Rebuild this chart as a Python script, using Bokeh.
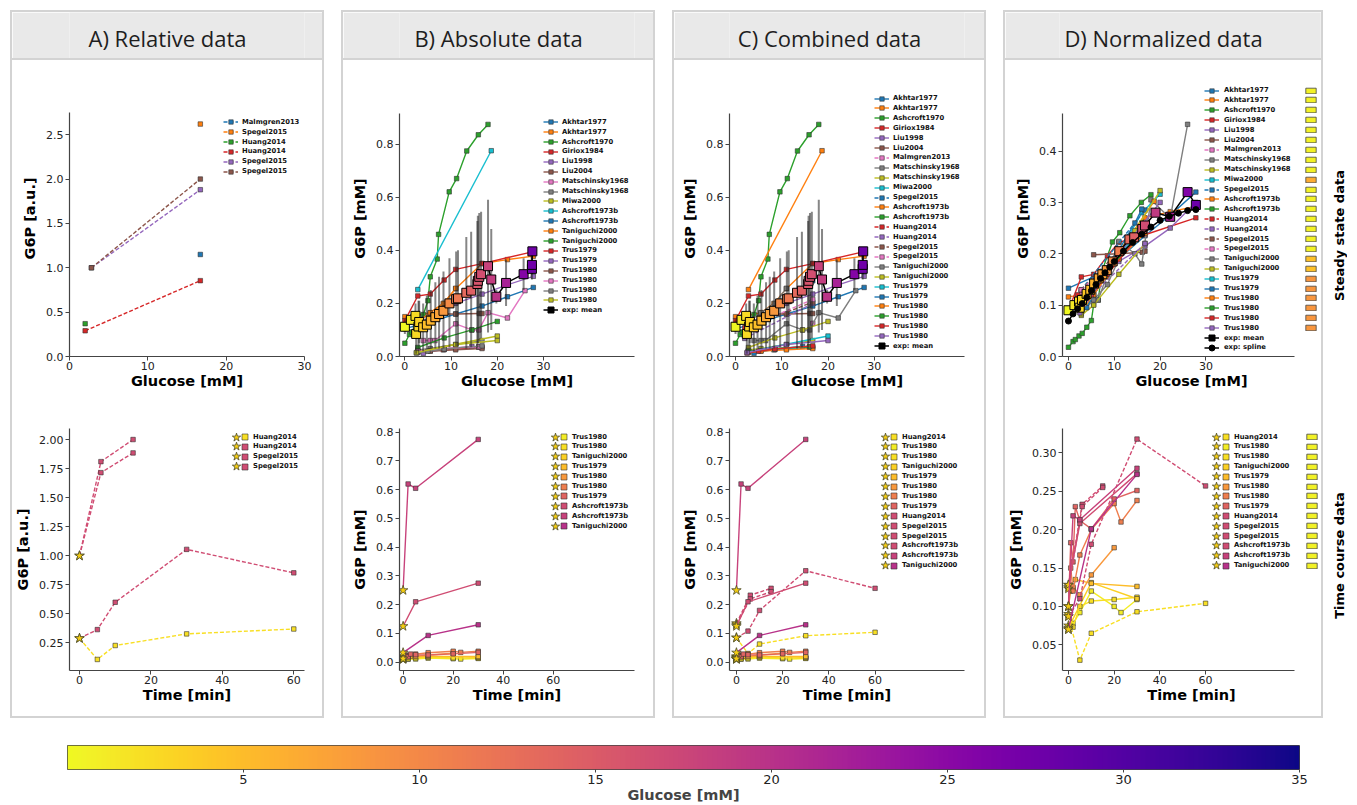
import numpy as np
from bokeh.plotting import figure
from bokeh.layouts import row, column
from bokeh.models import (Range1d, FixedTicker, PrintfTickFormatter, Legend, LegendItem,
                          Label, LinearColorMapper)
from bokeh.palettes import Plasma256, Category10_10
from bokeh.embed import file_html
from bokeh.resources import INLINE

# ------------------------------------------------------------------ data
GLC_TICKS = [0, 10, 20, 30]
TIME_TICKS = [0, 20, 40, 60]
CBAR_TICKS = [5, 10, 15, 20, 25, 30, 35]

# A) relative data - steady state
A_SS_LABELS = ["Malmgren2013", "Spegel2015", "Huang2014", "Huang2014", "Spegel2015", "Spegel2015"]
A_SS_X = [[16.7], [16.7], [2.0], [2.0, 16.7], [2.8, 16.7], [2.8, 16.7]]
A_SS_Y = [[1.15], [2.62], [0.37], [0.29, 0.855], [1.0, 1.88], [1.0, 2.0]]

# A) relative data - time course
A_TC_LABELS = ["Huang2014", "Huang2014", "Spegel2015", "Spegel2015"]
A_TC_GLC = [2.0, 16.7, 16.7, 16.7]
A_TC_T = [[0, 5, 10, 30, 60], [0, 5, 10, 30, 60], [0, 6, 15], [0, 6, 15]]
A_TC_Y = [[0.29, 0.108, 0.228, 0.328, 0.37], [0.29, 0.365, 0.60, 1.055, 0.853],
          [1.0, 1.81, 2.0], [1.0, 1.715, 1.885]]

# B) absolute data - steady state
ABS_SS_LABELS = ["Akhtar1977", "Akhtar1977", "Ashcroft1970", "Giriox1984", "Liu1998", "Liu2004",
                 "Matschinsky1968", "Matschinsky1968", "Miwa2000", "Ashcroft1973b", "Ashcroft1973b",
                 "Taniguchi2000", "Taniguchi2000", "Trus1979", "Trus1979", "Trus1980", "Trus1980",
                 "Trus1980", "Trus1980"]
ABS_SS_X = [
    [0, 5.5, 11, 16.7, 22.2, 27.8],
    [0, 2.8, 5.5, 8.3, 11, 16.7, 22.2, 27.8],
    [0, 1, 1.5, 2.3, 3, 4, 5, 5.5, 7, 7.3, 9.6, 11.2, 13.4, 15.9, 18],
    [0, 2.8, 5.5, 8.5, 11, 16.7, 27.8],
    [2.8, 5.5, 8.5, 11, 16.7, 22.2, 27.8],
    [5.5, 11, 16.1, 16.7],
    [4, 5.5, 6.5, 11, 14.5, 16, 18, 22.2, 26],
    [2.8, 5.5, 11, 16.7],
    [2.8, 20],
    [2.8, 18.7],
    [2.8, 8.5, 16],
    [2.8, 5.5, 8.5, 11],
    [2.8, 8.5, 14.5, 20],
    [2.8, 5.5, 8.3, 11, 16.7],
    [4, 8.5, 14.5, 16],
    [2.8, 5.5, 11, 16.7],
    [2.8, 8.5, 16],
    [2.5, 5, 8.5, 16.7],
    [2.5, 11, 20],
]
ABS_SS_Y = [
    [0.105, 0.13, 0.16, 0.19, 0.225, 0.26],
    [0.15, 0.155, 0.165, 0.2, 0.255, 0.35, 0.365, 0.378],
    [0.05, 0.083, 0.092, 0.11, 0.125, 0.158, 0.21, 0.3, 0.367, 0.46, 0.62, 0.67, 0.774, 0.835, 0.874],
    [0.135, 0.228, 0.235, 0.288, 0.328, 0.35, 0.395],
    [0.12, 0.15, 0.185, 0.2, 0.235, 0.27, 0.302],
    [0.16, 0.16, 0.162, 0.162],
    [0.06, 0.06, 0.06, 0.123, 0.1, 0.1, 0.165, 0.145, 0.248],
    [0.025, 0.03, 0.045, 0.06],
    [0.018, 0.077],
    [0.252, 0.775],
    [0.02, 0.026, 0.035],
    [0.13, 0.165, 0.2, 0.257],
    [0.034, 0.07, 0.1, 0.132],
    [0.02, 0.022, 0.025, 0.03, 0.035],
    [0.012, 0.028, 0.038, 0.035],
    [0.015, 0.02, 0.025, 0.03],
    [0.02, 0.03, 0.037],
    [0.013, 0.02, 0.028, 0.04],
    [0.015, 0.045, 0.06],
]

# relative data expressed in absolute units (used in C)
REL_ABS_LABELS = ["Malmgren2013", "Spegel2015", "Huang2014", "Huang2014", "Spegel2015", "Spegel2015"]
REL_ABS_X = [[16.7], [16.7], [2.0], [2.0, 16.7], [2.8, 16.7], [2.8, 16.7]]
REL_ABS_Y = [[0.125], [0.285], [0.108], [0.068, 0.2], [0.11, 0.205], [0.11, 0.215]]

# order of the series in the combined / normalized panels
C_SS_ORDER = [("a", 0), ("a", 1), ("a", 2), ("a", 3), ("a", 4), ("a", 5), ("r", 0), ("a", 6),
              ("a", 7), ("a", 8), ("r", 1), ("a", 9), ("a", 10), ("r", 2), ("r", 3), ("r", 4),
              ("r", 5), ("a", 11), ("a", 12), ("a", 13), ("a", 14), ("a", 15), ("a", 16),
              ("a", 17), ("a", 18)]

# experimental mean (absolute)
B_MEAN_X = [0, 1.3, 2.3, 2.45, 2.95, 3.1, 3.96, 4.76, 5.6, 6.6, 7.4, 8.36, 9.65, 11.1, 11.5,
            13.3, 14.35, 15.7, 15.8, 16.1, 16.5, 18.0, 18.7, 19.8, 21.9, 25.7, 27.5, 27.5, 27.6]
B_MEAN_Y = [0.112, 0.138, 0.153, 0.085, 0.113, 0.13, 0.11, 0.12, 0.135, 0.148, 0.16, 0.172, 0.2,
            0.216, 0.219, 0.24, 0.248, 0.273, 0.285, 0.3, 0.31, 0.34, 0.29, 0.225, 0.277, 0.31,
            0.33, 0.345, 0.396]
B_MEAN_LO = [0.085, 0.12, 0.11, 0.01, 0.02, 0.05, 0.02, 0.03, 0.03, 0.03, 0.03, 0.03, 0.035,
             0.04, 0.04, 0.03, 0.035, 0.03, 0.05, 0.06, 0.07, 0.09, 0.1, 0.2, 0.19, 0.25, 0.29,
             0.31, 0.38]
B_MEAN_HI = [0.14, 0.16, 0.2, 0.16, 0.21, 0.21, 0.2, 0.23, 0.25, 0.28, 0.3, 0.32, 0.37, 0.395,
             0.4, 0.45, 0.47, 0.51, 0.53, 0.54, 0.545, 0.59, 0.48, 0.25, 0.365, 0.37, 0.37, 0.38,
             0.41]

# D) normalized data - steady state (combined order)
D_SS_X = [
    [0, 5.5, 11, 16.7, 22.2, 27.8],
    [0, 2.8, 5.5, 8.3, 11, 16.7, 22.2, 27.8],
    [0, 1, 1.5, 2.3, 3, 4, 5, 5.5, 6.5, 7.3, 9.6, 11.2, 13.4, 15.9, 18],
    [0, 2.8, 5.5, 8.5, 11, 16.7, 27.8],
    [2.8, 5.5, 8.5, 11, 16.7, 22.2, 27.8],
    [5.5, 11, 16.1, 16.7],
    [2.8, 16.7],
    [4, 5.5, 6.5, 11, 14.5, 16, 18, 22.2, 26],
    [2.8, 5.5, 11, 16.7],
    [2.8, 5.5, 11, 16, 20],
    [2.8, 16.7],
    [2.8, 18.7],
    [2.8, 8.5, 16],
    [2.0],
    [2.0, 16.7],
    [2.8, 16.7],
    [2.8, 16.7],
    [2.8, 5.5, 8.5, 11],
    [2.8, 8.5, 14.5, 20],
    [2.8, 5.5, 8.3, 11, 16.7],
    [4, 8.5, 14.5, 16],
    [2.8, 5.5, 11, 16.7],
    [2.8, 8.5, 16],
    [2.5, 5, 8.5, 16.7],
    [2.5, 11, 20],
]
D_SS_Y = [
    [0.133, 0.155, 0.19, 0.235, 0.275, 0.32],
    [0.116, 0.12, 0.128, 0.155, 0.197, 0.27, 0.282, 0.292],
    [0.018, 0.029, 0.033, 0.04, 0.045, 0.057, 0.07, 0.101, 0.11, 0.166, 0.223, 0.241, 0.274, 0.3, 0.315],
    [0.09, 0.155, 0.16, 0.196, 0.222, 0.237, 0.27],
    [0.11, 0.14, 0.17, 0.185, 0.215, 0.25, 0.3],
    [0.198, 0.2, 0.203, 0.205],
    [0.125, 0.25],
    [0.105, 0.108, 0.11, 0.224, 0.2, 0.18, 0.305, 0.269, 0.452],
    [0.08, 0.1, 0.16, 0.22],
    [0.09, 0.12, 0.2, 0.28, 0.316],
    [0.13, 0.285],
    [0.098, 0.302],
    [0.1, 0.17, 0.26],
    [0.12],
    [0.092, 0.22],
    [0.13, 0.258],
    [0.13, 0.245],
    [0.085, 0.11, 0.14, 0.19],
    [0.083, 0.17, 0.245, 0.323],
    [0.1, 0.12, 0.16, 0.2, 0.25],
    [0.095, 0.17, 0.26, 0.287],
    [0.09, 0.12, 0.19, 0.24],
    [0.1, 0.165, 0.245],
    [0.09, 0.12, 0.16, 0.25],
    [0.085, 0.2, 0.3],
]
D_SS_SQ_GLC = [0.5, 0.5, 0.5, 0.5, 0.5, 0.5, 0.5, 0.5, 0.5, 6.5, 0.5, 0.5, 0.5, 0.5, 0.5, 0.5,
               0.5, 4.5, 4.5, 8.5, 8.5, 8.5, 8.5, 8.5, 8.5]
D_MEAN_X = [0, 1.3, 2.3, 2.45, 2.95, 3.96, 4.76, 5.6, 6.6, 7.4, 8.36, 9.65, 11.1, 13.3, 14.35,
            16.1, 16.7, 19.0, 22.2, 26.0, 27.8]
D_MEAN_Y = [0.09, 0.1, 0.107, 0.095, 0.11, 0.122, 0.13, 0.142, 0.152, 0.16, 0.168, 0.185, 0.205,
            0.228, 0.232, 0.248, 0.255, 0.28, 0.272, 0.32, 0.295]
D_SPLINE_X = [0, 1, 2, 3, 4, 5, 6, 7, 8, 9, 10, 12, 14, 16, 18, 20, 22, 24, 26, 27.8]
D_SPLINE_Y = [0.069, 0.083, 0.093, 0.103, 0.115, 0.128, 0.14, 0.152, 0.163, 0.174, 0.185, 0.205,
              0.222, 0.238, 0.252, 0.265, 0.273, 0.279, 0.284, 0.286]

# B) absolute data - time course
TC_ABS_LABELS = ["Trus1980", "Trus1980", "Taniguchi2000", "Trus1979", "Trus1980", "Trus1980",
                 "Trus1979", "Ashcroft1973b", "Ashcroft1973b", "Taniguchi2000"]
TC_ABS_GLC = [1.0, 2.0, 3.3, 5.0, 8.3, 11.0, 14.0, 16.7, 18.0, 20.0]
TC_ABS_T = [[0, 2, 5, 10, 20, 23, 30], [0, 2, 5, 10, 20, 30], [0, 10, 30], [0, 1, 2, 3, 10, 30],
            [0, 1, 2, 5, 10, 20], [0, 1, 2, 5, 10, 20, 23, 30], [0, 1, 2, 3, 5, 10, 20, 30],
            [0, 5, 30], [0, 2, 5, 30], [0, 10, 30]]
TC_ABS_Y = [[0.012, 0.01, 0.011, 0.014, 0.012, 0.011, 0.013],
            [0.01, 0.012, 0.015, 0.018, 0.015, 0.014],
            [0.011, 0.02, 0.017],
            [0.02, 0.02, 0.019, 0.021, 0.02, 0.02],
            [0.018, 0.021, 0.022, 0.02, 0.025, 0.031],
            [0.015, 0.025, 0.02, 0.028, 0.033, 0.038, 0.034, 0.038],
            [0.012, 0.022, 0.019, 0.028, 0.026, 0.025, 0.029, 0.034],
            [0.125, 0.21, 0.275],
            [0.25, 0.62, 0.605, 0.775],
            [0.033, 0.093, 0.13]]

# relative time courses in absolute units (used in C)
TC_REL_LABELS = ["Huang2014", "Huang2014", "Spegel2015", "Spegel2015"]
TC_REL_GLC = [2.0, 16.7, 16.7, 16.7]
TC_REL_T = [[0, 5, 10, 30, 60], [0, 5, 10, 30, 60], [0, 6, 15], [0, 6, 15]]
TC_REL_Y = [[0.085, 0.03, 0.063, 0.092, 0.104], [0.085, 0.108, 0.18, 0.318, 0.257],
            [0.135, 0.233, 0.257], [0.13, 0.22, 0.245]]
C_TC_ORDER = [("r", 0), ("a", 0), ("a", 1), ("a", 2), ("a", 3), ("a", 4), ("a", 5), ("a", 6),
              ("r", 1), ("r", 2), ("r", 3), ("a", 7), ("a", 8), ("a", 9)]

# D) normalized time courses (combined order)
D_TC_T = [[0, 5, 10, 30, 60], [0, 2, 5, 10, 20, 23, 30], [0, 2, 5, 10, 20, 30], [0, 10, 30],
          [0, 1, 2, 3, 10, 30], [0, 1, 2, 5, 10, 20], [0, 1, 2, 5, 10, 20, 23, 30],
          [0, 1, 2, 3, 5, 10, 20, 30], [0, 5, 10, 30, 60], [0, 6, 15], [0, 6, 15],
          [0, 5, 30], [0, 2, 5, 30], [0, 10, 30]]
D_TC_Y = [[0.087, 0.03, 0.065, 0.093, 0.104],
          [0.07, 0.078, 0.092, 0.12, 0.1, 0.092, 0.109],
          [0.075, 0.073, 0.1, 0.107, 0.109, 0.112],
          [0.072, 0.131, 0.11],
          [0.125, 0.128, 0.123, 0.135, 0.13, 0.126],
          [0.1, 0.12, 0.125, 0.115, 0.141, 0.1765],
          [0.09, 0.15, 0.12, 0.167, 0.2, 0.234, 0.21, 0.238],
          [0.1, 0.183, 0.158, 0.23, 0.212, 0.201, 0.24, 0.251],
          [0.087, 0.11, 0.181, 0.318, 0.257],
          [0.128, 0.233, 0.257],
          [0.123, 0.23, 0.255],
          [0.128, 0.208, 0.273],
          [0.1, 0.218, 0.213, 0.28],
          [0.07, 0.201, 0.272]]
D_TC_SQ_GLC = [0.5, 0.5, 0.5, 0.5, 0.5, 0.5, 0.5, 0.5, 0.5, 0.5, 0.5, 0.5, 0.5, 0.5]

# ------------------------------------------------------------------ styling helpers
TAB = list(Category10_10)
PLASMA_R = list(Plasma256)[::-1]
STAR_FILL = "#f4cc12"
FONT = "DejaVu Sans"
NOWHERE = np.array([np.nan])   # placeholder for legend-only glyphs (never drawn in the plot)


def gcolor(g):
    return PLASMA_R[int(round(min(max(g, 0.0), 35.0) / 35.0 * 255))]


def make_plot(w, h, xr, yr, xb, yb, borders, xt, yt, yfmt, xlabel, ylabel):
    bl, br, bt, bb = borders
    p = figure(width=w, height=h, x_range=Range1d(*xr), y_range=Range1d(*yr),
               output_backend="svg", toolbar_location=None,
               min_border_left=bl, min_border_right=br, min_border_top=bt, min_border_bottom=bb)
    p.grid.visible = False
    p.outline_line_color = None
    p.background_fill_color = "white"
    p.border_fill_color = "white"
    for ax, ticks, fmt, bnd in ((p.xaxis[0], xt, "%d", xb), (p.yaxis[0], yt, yfmt, yb)):
        ax.ticker = FixedTicker(ticks=ticks)
        ax.formatter = PrintfTickFormatter(format=fmt)
        ax.bounds = bnd
        ax.minor_tick_line_color = None
        ax.major_tick_in = 0
        ax.major_tick_out = 4
        ax.major_tick_line_color = "#444"
        ax.axis_line_color = "#444"
        ax.axis_line_width = 1.2
        ax.major_label_text_font = FONT
        ax.major_label_text_font_size = "11px"
        ax.major_label_text_color = "#222"
        ax.axis_label_text_font = FONT
        ax.axis_label_text_font_size = "14.5px"
        ax.axis_label_text_font_style = "bold"
        ax.axis_label_text_color = "black"
    p.xaxis.major_label_standoff = 1
    p.xaxis.axis_label_standoff = 0
    p.yaxis.major_label_standoff = 2
    p.yaxis.axis_label_standoff = 5
    p.xaxis.axis_label = xlabel
    p.yaxis.axis_label = ylabel
    return p


def add_rows(p, items, left, first_center, frame_h, gs, gw, standoff, pitch=9.9):
    """One small legend per row, so that rows can be 10px apart with larger glyphs."""
    for k, it in enumerate(items):
        G = gs[k] if isinstance(gs, list) else gs
        c = first_center + pitch * k
        leg = Legend(items=[it], location=(left, frame_h - c - G / 2.0))
        leg.glyph_height = G
        leg.label_height = G
        leg.glyph_width = gw
        leg.spacing = 0
        leg.padding = 0
        leg.margin = 0
        leg.label_standoff = standoff
        leg.border_line_color = None
        leg.background_fill_alpha = 0
        leg.label_text_font = FONT
        leg.label_text_font_size = "6.8px"
        leg.label_text_font_style = "bold"
        leg.label_text_color = "#111"
        p.add_layout(leg)


def draw_ss(p, labels, xs, ys, dashes, colors):
    items = []
    for lab, x, y, d, c in zip(labels, xs, ys, dashes, colors):
        lr = p.line(x, y, line_color=c, line_width=1.4, line_dash="4 2" if d else "solid")
        sr = p.scatter(x, y, marker="square", size=4.5, fill_color=c, line_color="#333",
                       line_width=0.6)
        items.append(LegendItem(label=lab, renderers=[lr, sr]))
    return items


def draw_mean(p, xs, ys, lo=None, hi=None, label="exp: mean"):
    if lo is not None:
        p.segment(x0=xs, y0=lo, x1=xs, y1=hi, line_color="#222", line_alpha=0.55, line_width=2)
    lr = p.line(xs, ys, line_color="black", line_width=1.5)
    p.scatter(xs, ys, marker="square", size=9, fill_color=[gcolor(g) for g in xs],
              line_color="black", line_width=1)
    leg_sq = p.scatter(x=NOWHERE, y=NOWHERE, marker="square", size=7, fill_color="black",
                       line_color="black")
    return LegendItem(label=label, renderers=[lr, leg_sq])


def draw_tc(p, labels, glcs, ts, ys, dashes):
    star_items, sq_items = [], []
    for lab, g, t, y, d in zip(labels, glcs, ts, ys, dashes):
        c = gcolor(g)
        p.line(t, y, line_color=c, line_width=1.4, line_dash="4 2" if d else "solid")
        sq = p.scatter(t[1:], y[1:], marker="square", size=4.5, fill_color=c, line_color="#333",
                       line_width=0.6)
        st = p.scatter(t[:1], y[:1], marker="star", size=10, fill_color=STAR_FILL,
                       line_color="#4a4a2a", line_width=0.8)
        star_items.append(LegendItem(label=" ", renderers=[st]))
        sq_items.append(LegendItem(label=lab, renderers=[sq]))
    return star_items, sq_items


def tc_legends(p, star_items, sq_items, star_left, sq_left, frame_h):
    add_rows(p, star_items, star_left, 8.5, frame_h, 22, 22, 0)
    add_rows(p, sq_items, sq_left, 8.5, frame_h, 15, 15, 1)


def square_column(p, glcs, left, first_center, frame_h):
    items = []
    for g in glcs:
        r = p.quad(left=NOWHERE, right=NOWHERE, top=NOWHERE, bottom=NOWHERE,
                   fill_color=gcolor(g), line_color="#444", line_width=0.8)
        items.append(LegendItem(label=" ", renderers=[r]))
    add_rows(p, items, left, first_center, frame_h, 7, 13, 0)


def header(w, bl, br, text):
    p = figure(width=w, height=46, x_range=Range1d(0, 1), y_range=Range1d(0, 1),
               output_backend="svg", toolbar_location=None, x_axis_type=None, y_axis_type=None,
               min_border_left=bl, min_border_right=br, min_border_top=0, min_border_bottom=0)
    p.grid.visible = False
    p.outline_line_color = None
    p.background_fill_color = "#e9e9e9"
    p.border_fill_color = "#e9e9e9"
    p.add_layout(Label(x=w / 2.0 - bl, y=21, x_units="screen", y_units="screen", text=text,
                       text_align="center", text_baseline="middle", text_font="Open Sans",
                       text_font_size="22px", text_color="#1e1e1e"))
    return column(p, styles={"border-bottom": "2px solid #d3d3d3"})


# geometry (pixels)
TOP_H, BOT_H = 340, 316
TOP_FRAME_H, BOT_FRAME_H = 276, 242
TOP_BT, BOT_BT = 20, 28
COL_STYLE = {"border": "2px solid #d3d3d3", "background-color": "white"}


def build_column(w, bl, frame_w, title, top_args, bot_args):
    br = w - bl - frame_w
    top = make_plot(w, TOP_H, *top_args[:4], (bl, br, TOP_BT, TOP_H - TOP_BT - TOP_FRAME_H),
                    *top_args[4:])
    bot = make_plot(w, BOT_H, *bot_args[:4], (bl, br, BOT_BT, BOT_H - BOT_BT - BOT_FRAME_H),
                    *bot_args[4:])
    return top, bot, header(w, bl, br, title)


# ------------------------------------------------------------------ panel A
a_top, a_bot, a_hdr = build_column(
    310, 57, 235, "A) Relative data",
    ((0, 30), (0, 3.111), (0, 30), (0, 2.745), GLC_TICKS, [0.0, 0.5, 1.0, 1.5, 2.0, 2.5], "%.1f",
     "Glucose [mM]", "G6P [a.u.]"),
    ((-2.8, 63), (0.013, 2.095), (-2.8, 63), (0.013, 2.095), TIME_TICKS,
     [0.25, 0.5, 0.75, 1.0, 1.25, 1.5, 1.75, 2.0], "%.2f", "Time [min]", "G6P [a.u.]"))
items = draw_ss(a_top, A_SS_LABELS, A_SS_X, A_SS_Y, [True] * 6, [TAB[i] for i in range(6)])
add_rows(a_top, items, 154, 41.7, TOP_FRAME_H, 11, 15, 4)
s_it, q_it = draw_tc(a_bot, A_TC_LABELS, A_TC_GLC, A_TC_T, A_TC_Y, [True] * 4)
tc_legends(a_bot, s_it, q_it, 156, 168, BOT_FRAME_H)
col_a = column(a_hdr, a_top, a_bot, spacing=0, styles=COL_STYLE)

# ------------------------------------------------------------------ panel B
b_top, b_bot, b_hdr = build_column(
    310, 56, 235, "B) Absolute data",
    ((-1.16, 49.7), (0, 1.0394), (-1.16, 49.7), (0, 0.917), GLC_TICKS, [0.0, 0.2, 0.4, 0.6, 0.8],
     "%.1f", "Glucose [mM]", "G6P [mM]"),
    ((-1.44, 92.4), (-0.029, 0.813), (-1.44, 92.4), (-0.029, 0.813), TIME_TICKS,
     [0.0, 0.1, 0.2, 0.3, 0.4, 0.5, 0.6, 0.7, 0.8], "%.1f", "Time [min]", "G6P [mM]"))
items = draw_ss(b_top, ABS_SS_LABELS, ABS_SS_X, ABS_SS_Y, [False] * 19,
                [TAB[i % 10] for i in range(19)])
items.append(draw_mean(b_top, B_MEAN_X, B_MEAN_Y, B_MEAN_LO, B_MEAN_HI))
add_rows(b_top, items, 144, 41.7, TOP_FRAME_H, [11] * 19 + [17], 15, 4)
s_it, q_it = draw_tc(b_bot, TC_ABS_LABELS, TC_ABS_GLC, TC_ABS_T, TC_ABS_Y, [False] * 10)
tc_legends(b_bot, s_it, q_it, 145, 157, BOT_FRAME_H)
col_b = column(b_hdr, b_top, b_bot, spacing=0, styles=COL_STYLE)

# ------------------------------------------------------------------ panel C
C_SS_LABELS = [ABS_SS_LABELS[i] if s == "a" else REL_ABS_LABELS[i] for s, i in C_SS_ORDER]
C_SS_X = [ABS_SS_X[i] if s == "a" else REL_ABS_X[i] for s, i in C_SS_ORDER]
C_SS_Y = [ABS_SS_Y[i] if s == "a" else REL_ABS_Y[i] for s, i in C_SS_ORDER]
C_SS_DASH = [s == "r" for s, i in C_SS_ORDER]
C_TC_LABELS = [TC_ABS_LABELS[i] if s == "a" else TC_REL_LABELS[i] for s, i in C_TC_ORDER]
C_TC_GLC = [TC_ABS_GLC[i] if s == "a" else TC_REL_GLC[i] for s, i in C_TC_ORDER]
C_TC_T = [TC_ABS_T[i] if s == "a" else TC_REL_T[i] for s, i in C_TC_ORDER]
C_TC_Y = [TC_ABS_Y[i] if s == "a" else TC_REL_Y[i] for s, i in C_TC_ORDER]
C_TC_DASH = [s == "r" for s, i in C_TC_ORDER]

c_top, c_bot, c_hdr = build_column(
    310, 55, 235, "C) Combined data",
    ((-1.3, 49.5), (0, 1.0394), (-1.3, 49.5), (0, 0.917), GLC_TICKS, [0.0, 0.2, 0.4, 0.6, 0.8],
     "%.1f", "Glucose [mM]", "G6P [mM]"),
    ((-3.0, 98.7), (-0.029, 0.813), (-3.0, 98.7), (-0.029, 0.813), TIME_TICKS,
     [0.0, 0.1, 0.2, 0.3, 0.4, 0.5, 0.6, 0.7, 0.8], "%.1f", "Time [min]", "G6P [mM]"))
items = draw_ss(c_top, C_SS_LABELS, C_SS_X, C_SS_Y, C_SS_DASH,
                [TAB[i % 10] for i in range(len(C_SS_ORDER))])
items.append(draw_mean(c_top, B_MEAN_X, B_MEAN_Y, B_MEAN_LO, B_MEAN_HI))
add_rows(c_top, items, 145, 18, TOP_FRAME_H, [11] * 25 + [17], 15, 4)
s_it, q_it = draw_tc(c_bot, C_TC_LABELS, C_TC_GLC, C_TC_T, C_TC_Y, C_TC_DASH)
tc_legends(c_bot, s_it, q_it, 145, 157, BOT_FRAME_H)
col_c = column(c_hdr, c_top, c_bot, spacing=0, styles=COL_STYLE)

# ------------------------------------------------------------------ panel D
d_top, d_bot, d_hdr = build_column(
    316, 54, 261, "D) Normalized data",
    ((-1.3, 55.0), (0, 0.5373), (-1.3, 49.4), (0, 0.474), GLC_TICKS, [0.0, 0.1, 0.2, 0.3, 0.4],
     "%.1f", "Glucose [mM]", "G6P [mM]"),
    ((-2.6, 110.3), (0.0165, 0.3318), (-2.6, 98.9), (0.0165, 0.3318), TIME_TICKS,
     [0.05, 0.10, 0.15, 0.20, 0.25, 0.30], "%.2f", "Time [min]", "G6P [mM]"))
items = draw_ss(d_top, C_SS_LABELS, D_SS_X, D_SS_Y, C_SS_DASH,
                [TAB[i % 10] for i in range(len(C_SS_ORDER))])
items.append(draw_mean(d_top, D_MEAN_X, D_MEAN_Y))
sp_l = d_top.line(D_SPLINE_X, D_SPLINE_Y, line_color="black", line_width=1.5)
sp_c = d_top.scatter(D_SPLINE_X, D_SPLINE_Y, marker="circle", size=6, fill_color="black",
                     line_color="black")
items.append(LegendItem(label="exp: spline", renderers=[sp_l, sp_c]))
add_rows(d_top, items, 142, 10, TOP_FRAME_H, [11] * 25 + [17, 15], 15, 5)
square_column(d_top, D_SS_SQ_GLC, 242, 10, TOP_FRAME_H)
s_it, q_it = draw_tc(d_bot, C_TC_LABELS, C_TC_GLC, D_TC_T, D_TC_Y, C_TC_DASH)
tc_legends(d_bot, s_it, q_it, 143, 156, BOT_FRAME_H)
square_column(d_bot, D_TC_SQ_GLC, 243, 8.5, BOT_FRAME_H)
col_d = column(d_hdr, d_top, d_bot, spacing=0, styles=COL_STYLE)

# ------------------------------------------------------------------ side labels
side = figure(width=22, height=708, x_range=Range1d(0, 1), y_range=Range1d(0, 1),
              output_backend="svg", toolbar_location=None, x_axis_type=None, y_axis_type=None,
              min_border_left=0, min_border_right=0, min_border_top=0, min_border_bottom=0)
side.grid.visible = False
side.outline_line_color = None
for txt, yy in (("Steady state data", 483), ("Time course data", 163)):
    side.add_layout(Label(x=14, y=yy, x_units="screen", y_units="screen", text=txt,
                          angle=np.pi / 2, text_align="center", text_baseline="middle",
                          text_font=FONT, text_font_size="13px", text_font_style="bold",
                          text_color="black"))

# ------------------------------------------------------------------ colorbar
CB_W = 1337
cb = figure(width=CB_W, height=87, x_range=Range1d(0, 35), y_range=Range1d(0, 1),
            output_backend="svg", toolbar_location=None, y_axis_type=None,
            min_border_left=57, min_border_right=CB_W - 57 - 1232, min_border_top=27,
            min_border_bottom=35)
cb.grid.visible = False
cb.outline_line_color = "#444"
cb.outline_line_width = 1
gradient = np.linspace(0, 35, 256).reshape(1, 256)
cb.image(image=[gradient], x=0, y=0, dw=35, dh=1,
         color_mapper=LinearColorMapper(palette=PLASMA_R, low=0, high=35))
ax = cb.xaxis[0]
ax.ticker = FixedTicker(ticks=CBAR_TICKS)
ax.formatter = PrintfTickFormatter(format="%d")
ax.minor_tick_line_color = None
ax.major_tick_in = 0
ax.major_tick_out = 3
ax.axis_line_color = None
ax.major_tick_line_color = "#444"
ax.major_label_text_font = FONT
ax.major_label_text_font_size = "13px"
ax.major_label_text_color = "#222"
ax.major_label_standoff = 2
ax.axis_label = "Glucose [mM]"
ax.axis_label_text_font = FONT
ax.axis_label_text_font_size = "14.5px"
ax.axis_label_text_font_style = "bold"
ax.axis_label_standoff = 0

# ------------------------------------------------------------------ layout
panels = row(col_a, col_b, col_c, row(col_d, side, spacing=2), spacing=17)
page = column(panels, cb, spacing=0, margin=(10, 0, 0, 10))

open("out.html", "w").write(file_html(page, INLINE))
